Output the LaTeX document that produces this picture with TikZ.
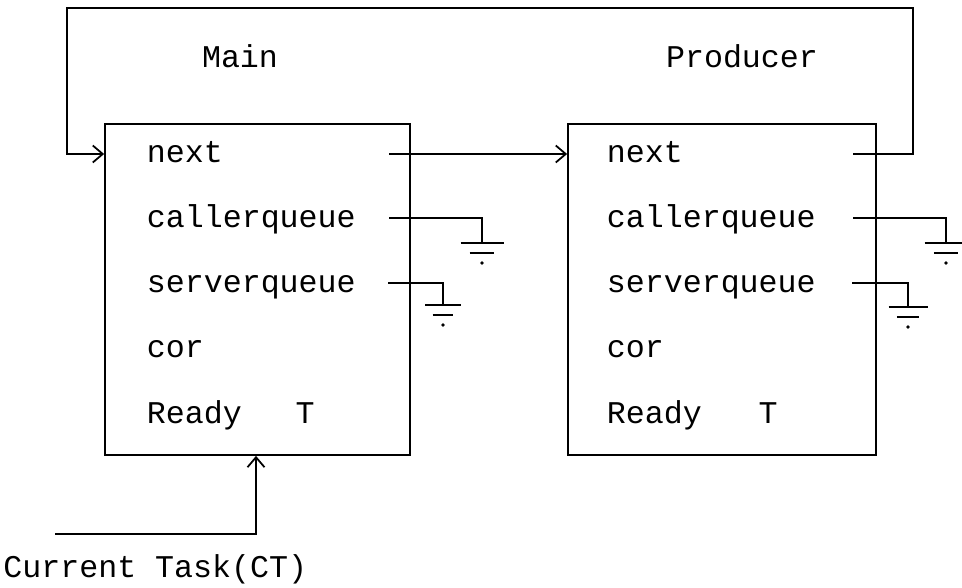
\documentclass[tikz,border=0pt]{standalone}
\usepackage{fontspec}
\setmonofont{Liberation Mono}
\usetikzlibrary{arrows.meta}
\begin{document}
\begin{tikzpicture}[line width=1pt, >={Straight Barb[length=0.2cm, width=0.34cm]},
	every node/.style={font=\ttfamily\fontsize{18}{20}\selectfont, inner sep=0pt},
	record/.style={draw, minimum height=6.62cm},
	field/.style={anchor=base west},
	pics/earth/.style={code={
		\draw (-#1,0) -- (#1,0);
		\draw (-0.57*#1,-0.2) -- (0.57*#1,-0.2);
		\fill (0,-0.4) circle (1.1pt);
	}}]
	\useasboundingbox (0,0) rectangle (19.24,11.74);
	% the two task records
	\node[record, minimum width=6.1cm] (mainbox) at (5.15,5.95) {};
	\node[record, minimum width=6.16cm] (prodbox) at (14.44,5.95) {};
	\node[anchor=base] (mainname) at (4.8,10.38) {Main};
	\node[anchor=base] (prodname) at (14.84,10.38) {Producer};
	\foreach \bx/\xx in {m/2.92, p/12.12} {
		\node[field] (\bx-next) at (\xx,8.48) {next};
		\node[field] (\bx-cq) at (\xx,7.18) {callerqueue};
		\node[field] (\bx-sq) at (\xx,5.88) {serverqueue};
		\node[field] (\bx-cor) at (\xx,4.58) {cor};
		\node[field] (\bx-ready) at (\xx,3.28) {Ready};
	}
	\node[anchor=base] (m-t) at (6.1,3.28) {T};
	\node[anchor=base] (p-t) at (15.36,3.28) {T};
	% pointer stubs
	\coordinate (m-next-out) at (7.78,8.66);
	\coordinate (p-next-out) at (17.06,8.66);
	\coordinate (m-cq-out) at (7.78,7.38);
	\coordinate (m-sq-out) at (7.76,6.08);
	\coordinate (p-cq-out) at (17.06,7.38);
	\coordinate (p-sq-out) at (17.04,6.08);
	\coordinate (m-cq-gnd) at (9.64,6.88);
	\coordinate (m-sq-gnd) at (8.86,5.64);
	\coordinate (p-cq-gnd) at (18.92,6.88);
	\coordinate (p-sq-gnd) at (18.16,5.60);
	% next links
	\draw[->] (m-next-out) -- (prodbox.west |- m-next-out);
	\coordinate (loop-r) at (18.26,11.58);
	\coordinate (loop-l) at (1.34,11.58);
	\draw[->] (p-next-out) -| (loop-r) -- (loop-l) |- (mainbox.west |- p-next-out);
	% empty queues
	\draw (m-cq-out) -| (m-cq-gnd);
	\draw (m-sq-out) -| (m-sq-gnd);
	\draw (p-cq-out) -| (p-cq-gnd);
	\draw (p-sq-out) -| (p-sq-gnd);
	\pic at (m-cq-gnd) {earth=0.43};
	\pic at (m-sq-gnd) {earth=0.36};
	\pic at (p-cq-gnd) {earth=0.43};
	\pic at (p-sq-gnd) {earth=0.39};
	% current task pointer
	\coordinate (ct-start) at (1.1,1.06);
	\coordinate (ct-corner) at (5.12,1.06);
	\draw[->] (ct-start) -- (ct-corner) -- (ct-corner |- mainbox.south);
	\node[anchor=base west] (ct) at (0.05,0.2) {Current Task(CT)};
\end{tikzpicture}
\end{document}
